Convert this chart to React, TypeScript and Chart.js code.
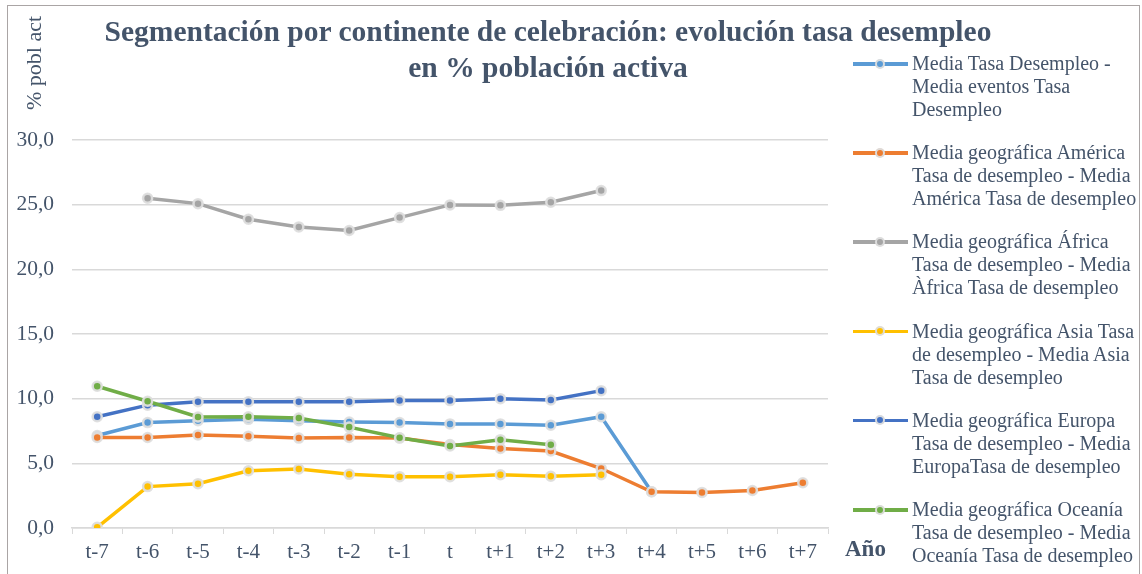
import React, { useEffect, useRef } from "react";
import { Chart, registerables } from "chart.js";

Chart.register(...registerables);

const categories = ["t-7", "t-6", "t-5", "t-4", "t-3", "t-2", "t-1", "t", "t+1", "t+2", "t+3", "t+4", "t+5", "t+6", "t+7"];

const mediaValues = [7.15, 8.15, 8.3, 8.4, 8.3, 8.2, 8.15, 8.05, 8.05, 7.95, 8.6, 2.8, null, null, null];
const americaValues = [7.0, 7.0, 7.2, 7.1, 6.95, 7.0, 6.95, 6.45, 6.15, 5.95, 4.6, 2.8, 2.75, 2.9, 3.5];
const africaValues = [null, 25.5, 25.08, 23.87, 23.28, 23.0, 24.0, 24.98, 24.95, 25.19, 26.09, null, null, null, null];
const asiaValues = [0.05, 3.2, 3.43, 4.43, 4.56, 4.15, 3.97, 3.97, 4.12, 4.0, 4.12, null, null, null, null];
const europaValues = [8.6, 9.5, 9.77, 9.77, 9.77, 9.77, 9.85, 9.85, 10.0, 9.9, 10.62, null, null, null, null];
const oceaniaValues = [10.96, 9.8, 8.58, 8.6, 8.5, 7.8, 6.98, 6.34, 6.83, 6.44, null, null, null, null, null];

const yTickLabels = ["0,0", "5,0", "10,0", "15,0", "20,0", "25,0", "30,0"];

const titleLines = ["Segmentación por continente de celebración: evolución tasa desempleo", "en % población activa"];
const yAxisTitle = "% pobl act";
const xAxisTitle = "Año";

const seriesLabelLines = [
  ["Media Tasa Desempleo -", "Media eventos Tasa", "Desempleo"],
  ["Media geográfica América", "Tasa de desempleo - Media", "América Tasa de desempleo"],
  ["Media geográfica África", "Tasa de desempleo - Media", "Àfrica Tasa de desempleo"],
  ["Media geográfica Asia Tasa", "de desempleo - Media Asia", "Tasa de desempleo"],
  ["Media geográfica Europa", "Tasa de desempleo - Media", "EuropaTasa de desempleo"],
  ["Media geográfica Oceanía", "Tasa de desempleo - Media", "Oceanía Tasa de desempleo"],
];
const seriesColors = ["#5b9bd5", "#ed7d31", "#a5a5a5", "#ffc000", "#4472c4", "#70ad47"];
const seriesValues = [mediaValues, americaValues, africaValues, asiaValues, europaValues, oceaniaValues];

const FONT = "'Liberation Serif', 'Times New Roman', serif";
const TEXT = "#44546a";
const MARKER_BORDER = "rgba(222,222,222,0.95)";

export default function App() {
  const canvasRef = useRef<HTMLCanvasElement | null>(null);

  useEffect(() => {
    if (!canvasRef.current) return;
    const n = seriesValues.length;
    const chart = new Chart(canvasRef.current, {
      type: "line",
      data: {
        labels: categories,
        datasets: seriesValues.map((vals, i) => ({
          label: seriesLabelLines[i].join(" "),
          data: vals,
          borderColor: seriesColors[i],
          backgroundColor: seriesColors[i],
          borderWidth: 3.5,
          pointRadius: 4.5,
          pointBorderWidth: 2.5,
          pointBackgroundColor: seriesColors[i],
          pointBorderColor: MARKER_BORDER,
          tension: 0,
          spanGaps: false,
          order: n - i,
        })),
      },
      options: {
        animation: false,
        responsive: false,
        maintainAspectRatio: false,
        layout: { padding: { left: 0, top: 140, right: 314, bottom: 0 } },
        plugins: { legend: { display: false }, title: { display: false }, tooltip: { enabled: false } },
        scales: {
          x: {
            type: "category",
            offset: true,
            afterFit: (s: any) => { s.height = 46; },
            grid: { display: true, drawOnChartArea: false, drawTicks: true, tickLength: 6, color: "#d9d9d9", offset: true },
            border: { display: true, color: "#d9d9d9", width: 1.5 },
            ticks: { color: TEXT, font: { family: FONT, size: 21 }, padding: 6, maxRotation: 0, autoSkip: false },
          },
          y: {
            min: 0,
            max: 30,
            afterFit: (s: any) => { s.width = 72; },
            grid: { color: "#d9d9d9", lineWidth: 1.5, drawTicks: false },
            border: { display: false },
            ticks: {
              stepSize: 5,
              padding: 18,
              color: TEXT,
              font: { family: FONT, size: 21.5 },
              callback: (_v: any, idx: number) => yTickLabels[idx],
            },
          },
        },
      },
    });
    return () => chart.destroy();
  }, []);

  return (
    <div style={{ position: "fixed", left: 0, top: 0, width: 1142, height: 574, background: "#fff", overflow: "hidden" }}>
      <canvas ref={canvasRef} width={1142} height={574} style={{ position: "absolute", left: 0, top: 0, width: 1142, height: 574 }} />
      <div style={{ position: "absolute", left: 7, top: 5, width: 1131, height: 600, borderLeft: "1.5px solid #aaa5a5", borderTop: "1.5px solid #aaa5a5", borderRight: "1.5px solid #aaa5a5", pointerEvents: "none" }} />
      <div style={{ position: "absolute", left: 48, top: 13, width: 1000, textAlign: "center", fontFamily: FONT, fontWeight: "bold", fontSize: 29.5, lineHeight: "36px", color: TEXT, whiteSpace: "nowrap" }}>
        {titleLines.map((l, i) => (<div key={i}>{l}</div>))}
      </div>
      <div style={{ position: "absolute", left: 34, top: 63, transform: "translate(-50%, -50%) rotate(-90deg)", whiteSpace: "nowrap", fontFamily: FONT, fontSize: 22, color: TEXT }}>
        {yAxisTitle}
      </div>
      <div style={{ position: "absolute", left: 845, top: 536, fontFamily: FONT, fontWeight: "bold", fontSize: 23, color: TEXT }}>
        {xAxisTitle}
      </div>
      {seriesLabelLines.map((lines, i) => (
        <div key={i} style={{ position: "absolute", left: 853, top: 52 + i * 89.2, display: "flex", alignItems: "flex-start" }}>
          <div style={{ position: "relative", width: 56, height: 23, flex: "none" }}>
            <div style={{ position: "absolute", left: 0, top: 10, width: 55, height: 3.5, background: seriesColors[i] }} />
            <div style={{ position: "absolute", left: 22, top: 6.5, width: 6, height: 6, borderRadius: "50%", background: seriesColors[i], border: `2.5px solid ${MARKER_BORDER}` }} />
          </div>
          <div style={{ marginLeft: 3, fontFamily: FONT, fontSize: 20, lineHeight: "23px", color: TEXT, whiteSpace: "nowrap" }}>
            {lines.map((l, j) => (<div key={j}>{l}</div>))}
          </div>
        </div>
      ))}
    </div>
  );
}
